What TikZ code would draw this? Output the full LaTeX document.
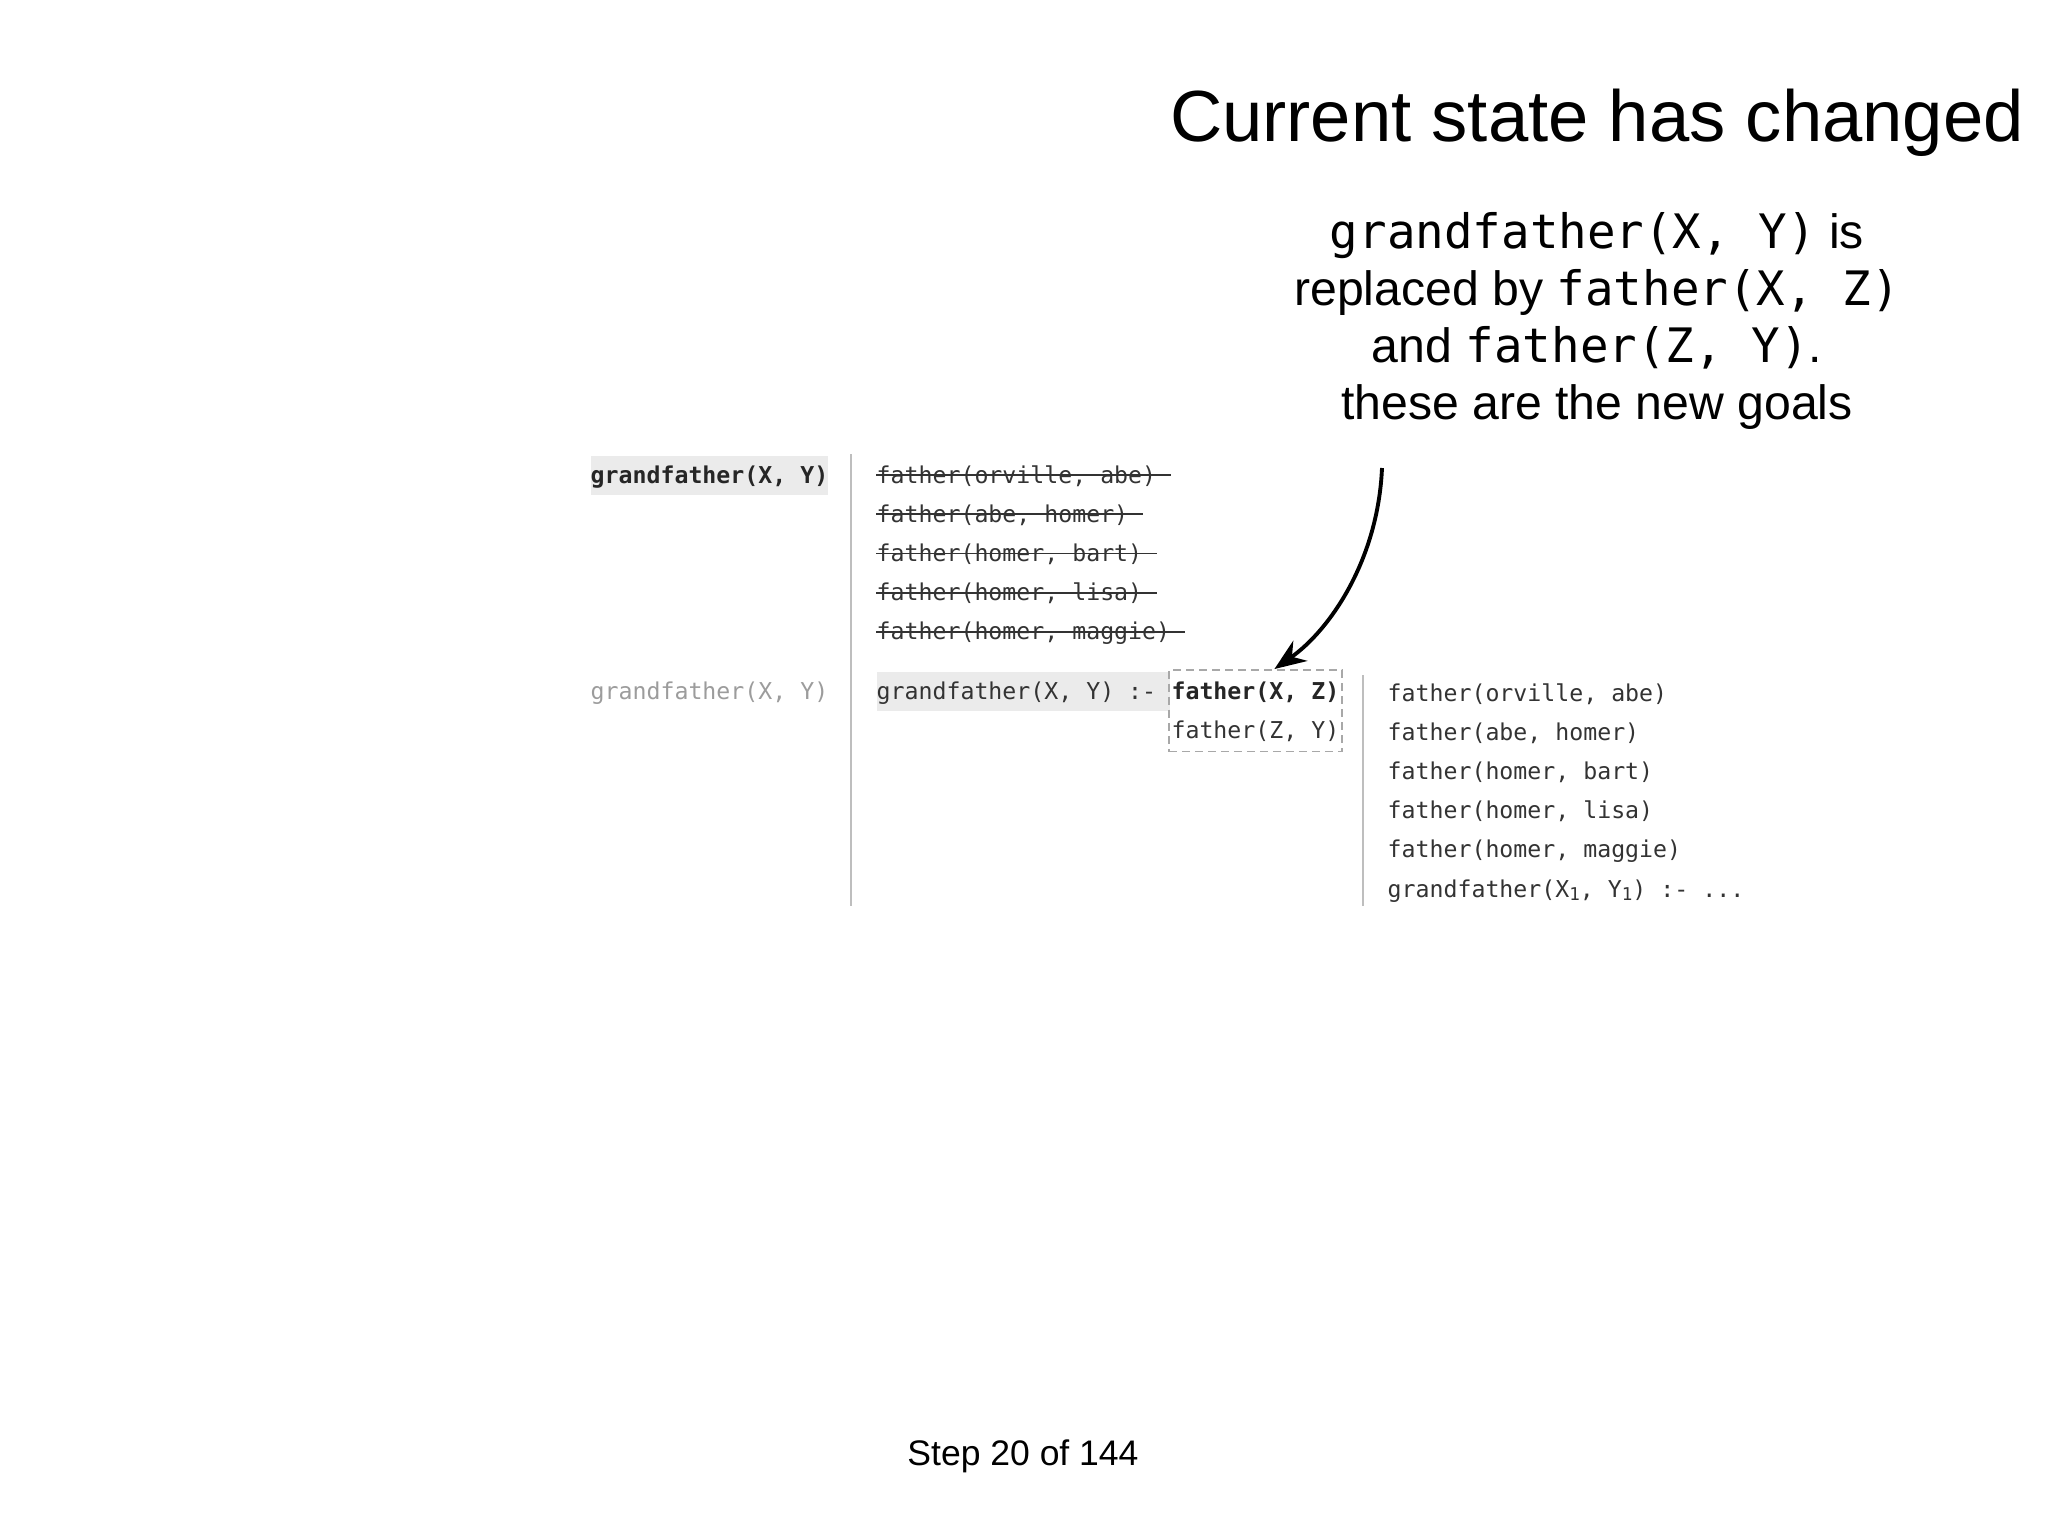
\documentclass[tikz,border=0pt]{standalone}
\usepackage{fontspec}
\setmainfont{Liberation Sans}
\setmonofont{DejaVu Sans Mono}
\usepackage{xcolor}
\usetikzlibrary{fit,arrows.meta}
\definecolor{ink}{HTML}{333333}
\definecolor{faded}{HTML}{9C9C9C}
\definecolor{hilite}{HTML}{EBEBEB}
\definecolor{rulegray}{HTML}{BEBEBE}
\definecolor{boxgray}{HTML}{A8A8A8}
\newcommand{\goal}[1]{{\fontsize{13.5pt}{16pt}\ttfamily #1}}
\newcommand{\tdots}{...}
\newcommand{\sub}[1]{\raisebox{-0.3ex}{\fontsize{5pt}{6pt}\selectfont #1}}

\begin{document}
\begin{tikzpicture}[x=0.01cm, y=-0.01cm,
  code/.style={font=\fontsize{6.6pt}{8pt}\ttfamily, text=ink, anchor=base west,
    inner sep=0pt, text height=7.8pt, text depth=3.3pt},
  query/.style={code, font=\fontsize{6.6pt}{8pt}\ttfamily\bfseries, text=black!85},
  struck/.style={draw=ink, line width=0.5pt},
  sep/.style={draw=rulegray, line width=0.6pt},
  said/.style={anchor=base, font=\fontsize{13.7pt}{16pt}\selectfont}]
\useasboundingbox (0,0) rectangle (2048,1536);

\node[anchor=base, font=\fontsize{20.6pt}{24pt}\selectfont] (title) at (1597,141) {Current state has changed};
\node[said] (g1) at (1597,248) {\goal{grandfather(X, Y)} is};
\node[said] (g2) at (1597,305) {replaced by \goal{father(X, Z)}};
\node[said] (g3) at (1597,362) {and \goal{father(Z, Y)}.};
\node[said] (g4) at (1597,419) {these are the new goals};

\node[query, fill=hilite] (q1) at (590,483) {grandfather(X, Y)};
\draw[sep] (851,454) -- (851,906);
\foreach \fact [count=\i] in {{father(orville, abe)}, {father(abe, homer)},
    {father(homer, bart)}, {father(homer, lisa)}, {father(homer, maggie)}}{
  \node[code] (s\i) at (876,{483+39.2*(\i-1)}) {\fact\phantom{x}};
  \draw[struck] (s\i.west) -- (s\i.east);
}

\node[code, text=faded] (q2) at (590,699) {grandfather(X, Y)};
\node[code, fill=hilite] (head) at (876,699) {grandfather(X, Y) :-\phantom{x}};
\node[query] (f1) at (head.base east) {father(X, Z)};
\node[code] (f2) at ([yshift=-0.392cm]f1.base west) {father(Z, Y)};
\node[draw=boxgray, line width=0.45pt, dash pattern=on 2.3pt off 1.4pt,
  fit=(f1)(f2), inner xsep=0.6pt, inner ysep=0.3pt] (box) {};

\draw[sep] (1363,675) -- (1363,906);
\foreach \fact [count=\i] in {{father(orville, abe)}, {father(abe, homer)},
    {father(homer, bart)}, {father(homer, lisa)}, {father(homer, maggie)},
    {grandfather(X\sub{1}, Y\sub{1}) :- \tdots}}
  \node[code] (k\i) at (1387,{701+39.2*(\i-1)}) {\fact};

\coordinate (tail) at (1382,468);
\draw[-{Stealth[length=9pt,width=7pt]}, line width=1.1pt]
  (tail) .. controls (1378,560) and (1330,630) .. ([xshift=0.19cm]box.north);

\node[anchor=base, font=\fontsize{10.1pt}{12pt}\selectfont] (step) at (1023,1465) {Step 20 of 144};
\end{tikzpicture}
\end{document}
